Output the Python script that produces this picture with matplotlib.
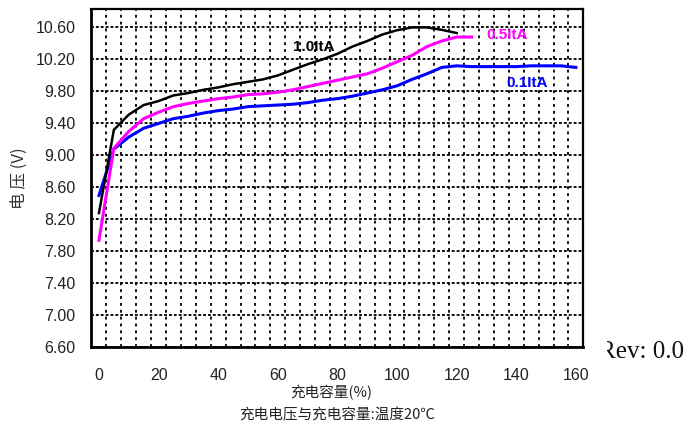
import numpy as np
import matplotlib
matplotlib.use("Agg")
import matplotlib.pyplot as plt
from matplotlib.ticker import FixedLocator
from matplotlib.transforms import Bbox, TransformedBbox

# charge capacity (%) and voltage (V)
cap_10 = [0, 5, 10, 15, 20, 25, 30, 35, 40, 45, 50, 55, 60, 65, 70, 75, 80,
          85, 90, 95, 100, 105, 110, 115, 120]
volt_10 = [8.27, 9.31, 9.50, 9.62, 9.67, 9.74, 9.77, 9.81, 9.84, 9.88, 9.91,
           9.94, 9.99, 10.06, 10.13, 10.19, 10.26, 10.35, 10.42, 10.50,
           10.555, 10.59, 10.59, 10.56, 10.52]

cap_05 = [0, 5, 10, 15, 20, 25, 30, 35, 40, 45, 50, 55, 60, 65, 70, 75, 80,
          85, 90, 95, 100, 105, 110, 115, 120, 125]
volt_05 = [7.93, 9.08, 9.29, 9.45, 9.53, 9.60, 9.64, 9.67, 9.70, 9.72, 9.75,
           9.76, 9.78, 9.81, 9.85, 9.89, 9.93, 9.97, 10.01, 10.08, 10.16,
           10.24, 10.35, 10.42, 10.47, 10.47]

cap_01 = [0, 5, 10, 15, 20, 25, 30, 35, 40, 45, 50, 55, 60, 65, 70, 75, 80,
          85, 90, 95, 100, 105, 110, 115, 120, 125, 130, 135, 140, 145, 150,
          155, 160]
volt_01 = [8.49, 9.07, 9.22, 9.33, 9.39, 9.45, 9.48, 9.52, 9.55, 9.57, 9.60,
           9.61, 9.62, 9.63, 9.65, 9.68, 9.70, 9.73, 9.77, 9.81, 9.86, 9.94,
           10.01, 10.09, 10.11, 10.10, 10.10, 10.10, 10.10, 10.11, 10.11,
           10.11, 10.09]

series_names = ["1.0ItA", "0.5ItA", "0.1ItA"]
x_ticks = [0, 20, 40, 60, 80, 100, 120, 140, 160]
y_ticks = [6.60, 7.00, 7.40, 7.80, 8.20, 8.60, 9.00, 9.40, 9.80, 10.20, 10.60]

narrow = ["Liberation Sans Narrow", "Liberation Sans", "DejaVu Sans"]
cjk = ["Noto Sans CJK SC", "DejaVu Sans"]

fig = plt.figure(figsize=(6.85, 4.25), dpi=100)
ax = fig.add_axes([0.1328, 0.1842, 0.7179, 0.7946])

ax.plot(cap_01, volt_01, color="#0000FF", lw=2.2, zorder=3)
ax.plot(cap_05, volt_05, color="#FF00FF", lw=2.2, zorder=4)
ax.plot(cap_10, volt_10, color="black", lw=1.8, zorder=5)

ax.set_xlim(-2.68, 162.3)
ax.set_ylim(6.60, 10.82)

ax.set_xticks(x_ticks)
ax.set_yticks(y_ticks)
ax.set_yticklabels(["%.2f" % v for v in y_ticks])
ax.xaxis.set_minor_locator(FixedLocator(np.arange(2.5, 160, 5)))
ax.tick_params(which="both", length=0)
ax.tick_params(axis="x", pad=15)
ax.tick_params(axis="y", pad=11)
for lab in ax.get_xticklabels() + ax.get_yticklabels():
    lab.set_family(narrow)
    lab.set_fontsize(11.5)
    lab.set_color("#222222")

ax.grid(axis="y", which="major", color="black", lw=1.3,
        linestyle=(0, (1.6, 1.1)))
ax.grid(axis="x", which="minor", color="black", lw=1.3,
        linestyle=(0, (1.6, 2.2)))
ax.set_axisbelow(True)

for sp in ax.spines.values():
    sp.set_linewidth(1.6)
ax.spines["left"].set_linewidth(2.0)
ax.spines["bottom"].set_linewidth(2.0)

# curve labels
ax.text(72, 10.34, series_names[0], color="black", fontsize=11,
        fontweight="bold", family=narrow, ha="center", va="center")
ax.text(137, 10.49, series_names[1], color="#FF00FF", fontsize=11,
        fontweight="bold", family=narrow, ha="center", va="center")
ax.text(143.7, 9.89, series_names[2], color="#0000FF", fontsize=11,
        fontweight="bold", family=narrow, ha="center", va="center")

ax.set_ylabel("电 压 (V)", family=cjk, fontsize=12, fontweight="light",
              color="#333333")
ax.yaxis.set_label_coords(-0.128, 0.5)
fig.text(331 / 685, 1 - 393 / 425, "充电容量(%)", family=cjk, fontsize=10.5,
         ha="center", va="center", color="#222222")
fig.text(337 / 685, 1 - 415 / 425, "充电电压与充电容量:温度20℃", family=cjk,
         fontsize=10.5, ha="center", va="center", color="#222222")

# the "R" is cut off at the left in the original
rev = fig.text(684 / 685, 1 - 352 / 425, "Rev: 0.0", family="Liberation Serif",
               fontsize=18, ha="right", va="center", color="#111111")
rev.set_clip_box(TransformedBbox(Bbox([[607 / 685, 0], [1, 1]]), fig.transFigure))
rev.set_clip_on(True)

fig.savefig("out.png", dpi=100)
